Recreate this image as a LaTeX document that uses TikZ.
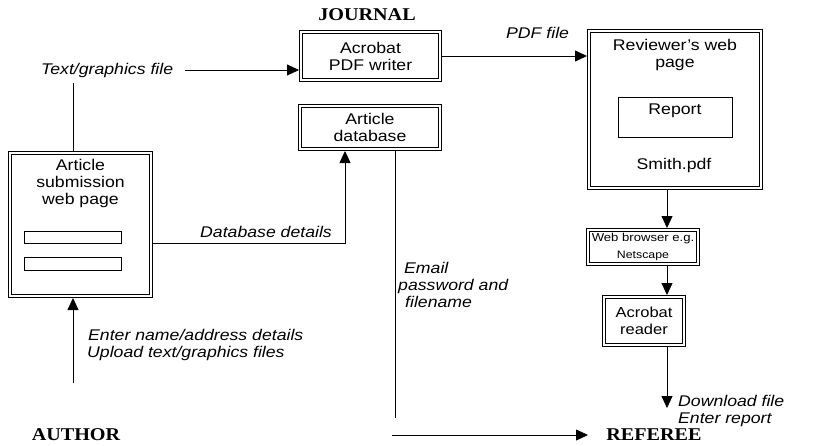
\documentclass[tikz,border=0pt]{standalone}
\usepackage{fontspec}
\setmainfont{Liberation Sans}[FakeStretch=1.14]
\newfontfamily\ttlfont{Liberation Serif}[FakeStretch=1.12]
\usetikzlibrary{arrows.meta}
\newcommand\myfs{\fontsize{15.5}{17}\selectfont}
\newcommand\rdfs{\fontsize{14.5}{16.5}\selectfont}
\newcommand\brfs{\fontsize{11.5}{13.5}\selectfont}
\newcommand\nsfs{\fontsize{10.8}{13.5}\selectfont}
\tikzset{
  dbox/.style={draw, double, double distance=2.4pt, line width=0.8pt, inner sep=0pt, outer sep=2pt, align=center, font=\myfs},
  sbox/.style={draw, line width=0.8pt, inner sep=0pt},
  txt/.style={inner sep=0pt, align=center, font=\myfs},
  lbl/.style={inner sep=0pt, align=left, font=\myfs\itshape},
  ttl/.style={inner sep=0pt, font=\ttlfont\bfseries\fontsize{18}{20}\selectfont},
  ln/.style={line width=0.8pt},
  arr/.style={line width=0.8pt, -{Triangle[length=12pt,width=11pt]}}
}
\begin{document}
\begin{tikzpicture}[x=1pt,y=-1pt]
\useasboundingbox (0,0) rectangle (831,445);
% titles
\node[ttl] (journal) at (367,15) {JOURNAL};
\node[ttl] (author) at (76,435) {AUTHOR};
\node[ttl] (referee) at (654,435) {REFEREE};
% journal boxes
\node[dbox, minimum width=139pt, minimum height=48pt] (writer) at (370.5,56) {Acrobat\\PDF writer};
\node[dbox, minimum width=140pt, minimum height=43pt] (db) at (370,127.5) {Article\\database};
% submission page
\node[dbox, minimum width=141pt, minimum height=143pt] (sub) at (80.5,224.5) {};
\node[txt] (subtext) at (80.5,183) {Article\\submission\\web page};
\node[sbox, minimum width=97pt, minimum height=12pt] (field1) at (73,237) {};
\node[sbox, minimum width=97pt, minimum height=13pt] (field2) at (73,263.5) {};
% reviewer page
\node[dbox, minimum width=172pt, minimum height=157pt] (rev) at (675,109.5) {};
\node[txt] (revtext) at (675,55) {Reviewer's web\\page};
\node[sbox, minimum width=114pt, minimum height=40pt] (report) at (675,117) {};
\node[txt] (reptext) at (675,111) {Report};
\node[txt] (smith) at (674,165) {Smith.pdf};
% referee side boxes
\node[dbox, minimum width=110pt, minimum height=34pt] (browser) at (643,247) {\brfs Web browser e.g.\\\nsfs Netscape};
\node[dbox, minimum width=80pt, minimum height=48pt, font=\rdfs] (reader) at (644,321) {Acrobat\\reader};
% labels
\node[lbl, anchor=west] (tgf) at (41,70) {Text/graphics file};
\node[lbl, anchor=west] (pdff) at (506,33) {PDF file};
\node[lbl, anchor=west] (dbd) at (200,232) {Database details};
\node[lbl, anchor=north west] (email) at (398,262) {\hspace*{6pt}Email\\password and\\\hspace*{7pt}filename};
\node[lbl, anchor=north west] (enter) at (87,329) {\hspace*{1pt}Enter name/address details\\Upload text/graphics files};
\node[lbl, anchor=north west] (dl) at (678,395) {Download file\\Enter report};
% connector coordinates
\coordinate (tgdown) at (73,83);
\coordinate (dbc) at (345,243);
\coordinate (emend) at (395,418);
\coordinate (refstart) at (392,435);
\coordinate (refend) at (588,435);
\coordinate (aup) at (73,383);
\coordinate (ax) at (667,200);
\coordinate (dlend) at (667,408);
% connectors
\draw[ln] (tgdown) -- (tgdown |- sub.north);
\draw[arr] ([xshift=12pt]tgf.east) -- (tgf.east -| writer.west);
\draw[arr] (writer.east) -- (writer.east -| rev.west);
\draw[arr] (dbc -| sub.east) -- (dbc) -- (dbc |- db.south);
\draw[ln] (emend |- db.south) -- (emend);
\draw[arr] (refstart) -- (refend);
\draw[arr] (aup) -- (aup |- sub.south);
\draw[arr] (ax |- rev.south) -- (ax |- browser.north);
\draw[arr] (ax |- browser.south) -- (ax |- reader.north);
\draw[arr] (ax |- reader.south) -- (dlend);
\end{tikzpicture}
\end{document}
